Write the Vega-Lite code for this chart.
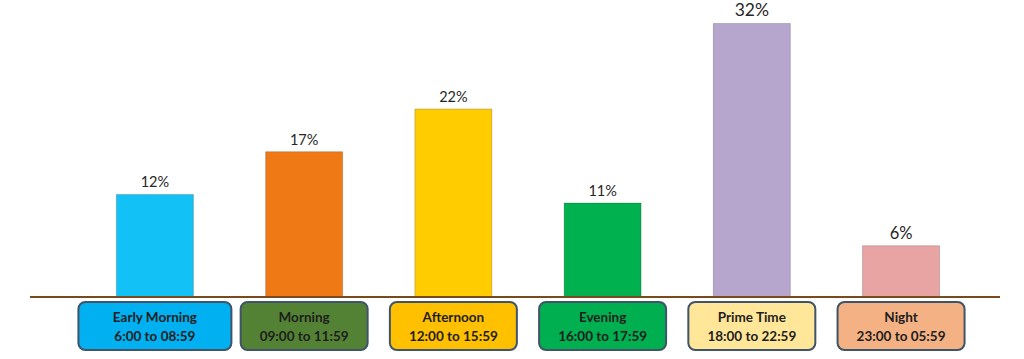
{
  "$schema": "https://vega.github.io/schema/vega-lite/v6.json",
  "width": 970,
  "height": 359,
  "autosize": "none",
  "padding": {"left": 30, "right": 24, "top": 0, "bottom": 0},
  "background": "white",
  "config": {"view": {"stroke": null}, "font": "Lato"},
  "data": {
    "values": [
      {"cat": "Early Morning", "time": "6:00 to 08:59", "pct": 12},
      {"cat": "Morning", "time": "09:00 to 11:59", "pct": 17},
      {"cat": "Afternoon", "time": "12:00 to 15:59", "pct": 22},
      {"cat": "Evening", "time": "16:00 to 17:59", "pct": 11},
      {"cat": "Prime Time", "time": "18:00 to 22:59", "pct": 32},
      {"cat": "Night", "time": "23:00 to 05:59", "pct": 6}
    ]
  },
  "encoding": {
    "x": {
      "field": "cat", "type": "nominal", "sort": null,
      "scale": {"domain": ["Early Morning", "Morning", "Afternoon", "Evening", "Prime Time", "Night"], "paddingInner": 0, "paddingOuter": 0.25, "align": 0.674},
      "axis": null
    }
  },
  "layer": [
    {
      "mark": {"type": "bar", "width": 77, "stroke": "#00000030", "strokeWidth": 1},
      "encoding": {
        "y": {"field": "pct", "type": "quantitative", "scale": {"domain": [-7.25, 34.74], "nice": false, "zero": false}, "axis": null},
        "y2": {"datum": 0},
        "fill": {
          "field": "cat", "type": "nominal", "legend": null,
          "scale": {
            "domain": ["Early Morning", "Morning", "Afternoon", "Evening", "Prime Time", "Night"],
            "range": ["#12C1F5", "#EF7914", "#FFCC00", "#00B24F", "#B6A6CE", "#E8A3A3"]
          }
        }
      }
    },
    {
      "transform": [{"calculate": "datum.pct + '%'", "as": "lbl"}],
      "mark": {"type": "text", "baseline": "alphabetic", "dy": -7, "color": "#262626"},
      "encoding": {
        "y": {"field": "pct", "type": "quantitative"},
        "text": {"field": "lbl", "type": "nominal"},
        "size": {"condition": [{"test": "datum.pct === 32", "value": 17.5}, {"test": "datum.pct === 6", "value": 16.5}], "value": 14.5}
      }
    },
    {
      "mark": {"type": "rule", "color": "#7A4A1F", "strokeWidth": 2},
      "encoding": {"y": {"datum": 0}, "x": null}
    },
    {
      "transform": [{"filter": "datum.cat === 'Early Morning'"}],
      "mark": {"type": "rect", "cornerRadius": 7, "stroke": "#3F5468", "strokeWidth": 2, "width": 153},
      "encoding": {
        "y": {"datum": -0.58},
        "y2": {"datum": -6.2},
        "fill": {
          "field": "cat", "type": "nominal", "legend": null,
          "scale": {
            "domain": ["Early Morning", "Morning", "Afternoon", "Evening", "Prime Time", "Night"],
            "range": ["#00B0F0", "#548235", "#FFC000", "#00B050", "#FFE699", "#F4B183"]
          }
        }
      }
    },
    {
      "transform": [{"filter": "datum.cat !== 'Early Morning'"}],
      "mark": {"type": "rect", "cornerRadius": 7, "stroke": "#3F5468", "strokeWidth": 2, "width": 127},
      "encoding": {
        "y": {"datum": -0.58},
        "y2": {"datum": -6.2},
        "fill": {
          "field": "cat", "type": "nominal", "legend": null,
          "scale": {
            "domain": ["Early Morning", "Morning", "Afternoon", "Evening", "Prime Time", "Night"],
            "range": ["#00B0F0", "#548235", "#FFC000", "#00B050", "#FFE699", "#F4B183"]
          }
        }
      }
    },
    {
      "mark": {"type": "text", "fontWeight": "bold", "fontSize": 13.5, "color": "#1E1E1E", "baseline": "middle"},
      "encoding": {"y": {"datum": -2.5}, "text": {"field": "cat"}}
    },
    {
      "mark": {"type": "text", "fontWeight": "bold", "fontSize": 13.5, "color": "#1E1E1E", "baseline": "middle"},
      "encoding": {"y": {"datum": -4.62}, "text": {"field": "time"}}
    }
  ],
  "resolve": {"scale": {"fill": "independent"}}
}
